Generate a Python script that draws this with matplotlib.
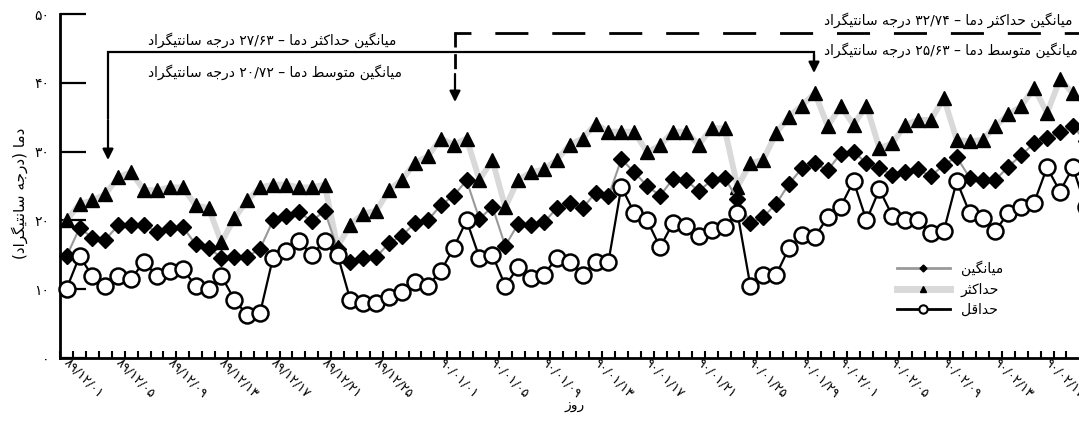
import re
import matplotlib
matplotlib.use("Agg")
import matplotlib.pyplot as plt
from matplotlib.lines import Line2D

plt.rcParams['font.family'] = ['DejaVu Sans']

# ---------------- data ----------------
max_t = [20.0, 22.4, 22.9, 23.8, 26.3, 27.0, 24.4, 24.4, 24.8, 24.8,
         22.2, 21.8, 16.8, 20.3, 22.9, 24.8, 25.2, 25.2, 24.8, 24.8,
         25.2, 16.2, 19.4, 21.0, 21.4, 24.4, 25.9, 28.4, 29.3, 31.9,
         31.0, 31.9, 25.9, 28.8, 21.9, 25.9, 27.0, 27.4, 28.8, 31.0,
         31.9, 34.0, 32.9, 32.9, 32.9, 29.9, 30.9, 32.9, 32.9, 31.0,
         33.4, 33.4, 24.9, 28.3, 28.8, 32.7, 35.1, 36.7, 38.5, 33.7,
         36.6, 33.9, 36.7, 30.5, 31.2, 33.9, 34.6, 34.6, 37.8, 31.7,
         31.5, 31.7, 33.7, 35.4, 36.6, 39.3, 35.6, 40.5, 38.5, 37.0]
mean_t = [14.8, 18.9, 17.5, 17.2, 19.3, 19.4, 19.4, 18.3, 18.9, 19.1,
          16.5, 16.0, 14.6, 14.7, 14.7, 15.9, 20.0, 20.6, 21.2, 19.9,
          21.4, 15.8, 14.0, 14.5, 14.7, 16.7, 17.8, 19.6, 20.0, 22.2,
          23.6, 25.8, 20.2, 22.0, 16.3, 19.5, 19.3, 19.7, 21.8, 22.5,
          21.8, 24.0, 23.5, 28.9, 27.0, 25.0, 23.6, 26.0, 25.8, 24.3,
          25.8, 26.2, 23.1, 19.6, 20.5, 22.4, 25.3, 27.6, 28.3, 27.3,
          29.7, 30.0, 28.3, 27.6, 26.6, 27.1, 27.4, 26.4, 28.1, 29.2,
          26.2, 25.9, 25.9, 27.8, 29.5, 31.2, 32.0, 32.8, 33.7, 31.5]
min_t = [10.1, 14.8, 11.9, 10.5, 11.9, 11.5, 14.0, 11.9, 12.6, 12.9,
         10.5, 10.0, 11.9, 8.5, 6.2, 6.6, 14.6, 15.6, 17.0, 15.0,
         17.0, 15.0, 8.4, 8.0, 8.0, 8.9, 9.6, 11.0, 10.5, 12.6,
         16.0, 20.0, 14.6, 15.0, 10.5, 13.2, 11.6, 12.1, 14.6, 14.0,
         12.1, 14.0, 14.0, 24.9, 21.1, 20.0, 16.1, 19.6, 19.2, 17.7,
         18.6, 19.1, 21.1, 10.5, 12.1, 12.1, 16.0, 17.9, 17.6, 20.5,
         22.0, 25.7, 20.0, 24.5, 20.7, 20.0, 20.0, 18.1, 18.5, 25.7,
         21.1, 20.3, 18.5, 21.1, 22.0, 22.6, 27.7, 24.2, 27.7, 22.0]

# categories: 1389 Esfand (29 days), 1390 Farvardin (31), 1390 Ordibehesht (20)
months = [("89", "12", 29), ("90", "01", 31), ("90", "02", 20)]
FA_DIGITS = str.maketrans("0123456789", "۰۱۲۳۴۵۶۷۸۹")
dates = []
for yy, mm, nd in months:
    for d in range(1, nd + 1):
        dates.append(f"{yy}/{mm}/{d:02d}".translate(FA_DIGITS))

shown_labels = ["۸۹/۱۲/۰۱", "۸۹/۱۲/۰۵", "۸۹/۱۲/۰۹", "۸۹/۱۲/۱۳", "۸۹/۱۲/۱۷",
                "۸۹/۱۲/۲۱", "۸۹/۱۲/۲۵", "۹۰/۰۱/۰۱", "۹۰/۰۱/۰۵", "۹۰/۰۱/۰۹",
                "۹۰/۰۱/۱۳", "۹۰/۰۱/۱۷", "۹۰/۰۱/۲۱", "۹۰/۰۱/۲۵", "۹۰/۰۱/۲۹",
                "۹۰/۰۲/۰۱", "۹۰/۰۲/۰۵", "۹۰/۰۲/۰۹", "۹۰/۰۲/۱۳", "۹۰/۰۲/۱۷"]
y_ticks = [0, 10, 20, 30, 40, 50]

series_names = ["میانگین", "حداکثر", "حداقل"]
note_texts = ["میانگین حداکثر دما – ۲۷/۶۳ درجه سانتیگراد",
              "میانگین متوسط دما – ۲۰/۷۲ درجه سانتیگراد",
              "میانگین حداکثر دما – ۳۲/۷۴ درجه سانتیگراد",
              "میانگین متوسط دما – ۲۵/۶۳ درجه سانتیگراد"]
x_title = "روز"
y_title = "دما (درجه سانتیگراد)"

# ---------------- simple Persian shaping (visual order) ----------------
FORMS = {
    '\u0627': ('\uFE8D', '\uFE8E', None, None),
    '\u0622': ('\uFE81', '\uFE82', None, None),
    '\u0628': ('\uFE8F', '\uFE90', '\uFE91', '\uFE92'),
    '\u067E': ('\uFB56', '\uFB57', '\uFB58', '\uFB59'),
    '\u062A': ('\uFE95', '\uFE96', '\uFE97', '\uFE98'),
    '\u062B': ('\uFE99', '\uFE9A', '\uFE9B', '\uFE9C'),
    '\u062C': ('\uFE9D', '\uFE9E', '\uFE9F', '\uFEA0'),
    '\u0686': ('\uFB7A', '\uFB7B', '\uFB7C', '\uFB7D'),
    '\u062D': ('\uFEA1', '\uFEA2', '\uFEA3', '\uFEA4'),
    '\u062E': ('\uFEA5', '\uFEA6', '\uFEA7', '\uFEA8'),
    '\u062F': ('\uFEA9', '\uFEAA', None, None),
    '\u0630': ('\uFEAB', '\uFEAC', None, None),
    '\u0631': ('\uFEAD', '\uFEAE', None, None),
    '\u0632': ('\uFEAF', '\uFEB0', None, None),
    '\u0698': ('\uFB8A', '\uFB8B', None, None),
    '\u0633': ('\uFEB1', '\uFEB2', '\uFEB3', '\uFEB4'),
    '\u0634': ('\uFEB5', '\uFEB6', '\uFEB7', '\uFEB8'),
    '\u0635': ('\uFEB9', '\uFEBA', '\uFEBB', '\uFEBC'),
    '\u0636': ('\uFEBD', '\uFEBE', '\uFEBF', '\uFEC0'),
    '\u0637': ('\uFEC1', '\uFEC2', '\uFEC3', '\uFEC4'),
    '\u0638': ('\uFEC5', '\uFEC6', '\uFEC7', '\uFEC8'),
    '\u0639': ('\uFEC9', '\uFECA', '\uFECB', '\uFECC'),
    '\u063A': ('\uFECD', '\uFECE', '\uFECF', '\uFED0'),
    '\u0641': ('\uFED1', '\uFED2', '\uFED3', '\uFED4'),
    '\u0642': ('\uFED5', '\uFED6', '\uFED7', '\uFED8'),
    '\u06A9': ('\uFB8E', '\uFB8F', '\uFB90', '\uFB91'),
    '\u06AF': ('\uFB92', '\uFB93', '\uFB94', '\uFB95'),
    '\u0644': ('\uFEDD', '\uFEDE', '\uFEDF', '\uFEE0'),
    '\u0645': ('\uFEE1', '\uFEE2', '\uFEE3', '\uFEE4'),
    '\u0646': ('\uFEE5', '\uFEE6', '\uFEE7', '\uFEE8'),
    '\u0647': ('\uFEE9', '\uFEEA', '\uFEEB', '\uFEEC'),
    '\u0648': ('\uFEED', '\uFEEE', None, None),
    '\u06CC': ('\uFBFC', '\uFBFD', '\uFBFE', '\uFBFF'),
    '\u064A': ('\uFEF1', '\uFEF2', '\uFEF3', '\uFEF4'),
}


def shape(s):
    out = []
    n = len(s)
    for k, ch in enumerate(s):
        if ch not in FORMS:
            out.append(ch)
            continue
        prev = s[k - 1] if k > 0 else None
        nxt = s[k + 1] if k < n - 1 else None
        jp = prev in FORMS and FORMS[prev][2] is not None
        jn = nxt in FORMS and FORMS[ch][2] is not None
        iso, fin, ini, med = FORMS[ch]
        if jp and jn:
            out.append(med)
        elif jp:
            out.append(fin)
        elif jn:
            out.append(ini)
        else:
            out.append(iso)
    return ''.join(out)


LTR = r'[0-9\u06F0-\u06F9/.]'


def fa(s):
    sh = shape(s)
    toks = re.findall(LTR + r'+|[^0-9\u06F0-\u06F9/.]+', sh)
    res = []
    for t in reversed(toks):
        if re.match(LTR, t):
            res.append(t)
        else:
            res.append(t[::-1].translate(str.maketrans('()', ')(')))
    return ''.join(res)


# ---------------- figure ----------------
W, H = 1079, 437
fig = plt.figure(figsize=(W / 100, H / 100), dpi=100)
ax_left, ax_right, ax_top, ax_bot = 60.2, 1079, 14, 358
ax = fig.add_axes([ax_left / W, 1 - ax_bot / H, (ax_right - ax_left) / W, (ax_bot - ax_top) / H])

x = list(range(len(dates)))
ax.plot(x, max_t, color='#d9d9d9', lw=4.2, marker='^', ms=10.5, mfc='black', mec='black',
        zorder=3, clip_on=False)
ax.plot(x, mean_t, color='#999999', lw=1.5, marker='D', ms=8.5, mfc='black', mec='black',
        zorder=4, clip_on=False)
ax.plot(x, min_t, color='black', lw=1.6, marker='o', ms=11.5, mfc='white', mec='black',
        mew=1.8, zorder=5, clip_on=False)

for s in ['top', 'right']:
    ax.spines[s].set_visible(False)
for s in ['left', 'bottom']:
    ax.spines[s].set_linewidth(2.0)

ax.set_yticks(y_ticks)
ax.set_yticklabels([str(v).translate(FA_DIGITS) for v in y_ticks], fontsize=10)
ax.tick_params(axis='y', direction='in', length=19, width=1.6, pad=8)

label_pos = [dates.index(l) for l in shown_labels]
ax.set_xticks(label_pos)
ax.set_xticklabels(shown_labels, fontsize=9.2, rotation=-45, ha='left', va='center',
                   rotation_mode='anchor')
ax.tick_params(axis='x', which='major', length=0, pad=2)
ax.set_xticks([i - 0.5 for i in range(len(dates) + 1)], minor=True)
ax.tick_params(axis='x', which='minor', direction='in', length=5, width=1.5)

# limits set after the ticks (set_xticks may widen the view)
px_per_day = 12.9
ax.set_xlim(-0.5, -0.5 + (ax_right - ax_left) / px_per_day)
ax.set_ylim(0, 50)


# ---------------- annotations ----------------
def T(ypx):
    return (ax_bot - ypx) / ((ax_bot - ax_top) / 50.0)


def X(xpx):
    return -0.5 + (xpx - ax_left) / px_per_day


arrow_kw = dict(arrowstyle='-|>', color='black', lw=1.6, mutation_scale=16, shrinkA=0, shrinkB=0)
# solid bracket
ax.plot([X(108), X(108), X(814), X(814)], [T(118), T(52), T(52), T(60)], color='black',
        lw=1.6, clip_on=False, solid_joinstyle='miter')
ax.annotate('', xy=(X(108), T(160)), xytext=(X(108), T(120)), arrowprops=arrow_kw,
            annotation_clip=False)
ax.annotate('', xy=(X(814), T(73)), xytext=(X(814), T(55)), arrowprops=arrow_kw,
            annotation_clip=False)
# dashed bracket (horizontal part starts with a short dash at the corner)
ax.plot([X(454), X(1085)], [T(33), T(33)], color='black', lw=2.0,
        linestyle=(5.8, (11.9, 8.6)), clip_on=False, solid_capstyle='butt')
ax.plot([X(455), X(455)], [T(32), T(71)], color='black', lw=2.0,
        linestyle=(0, (5.4, 2.4)), clip_on=False)
ax.annotate('', xy=(X(455), T(102)), xytext=(X(455), T(74)), arrowprops=arrow_kw,
            annotation_clip=False)
ax.set_xlim(-0.5, -0.5 + (ax_right - ax_left) / px_per_day)

ax.text(X(148), T(40), fa(note_texts[0]), fontsize=10, ha='left', va='center')
ax.text(X(148), T(72), fa(note_texts[1]), fontsize=10, ha='left', va='center')
ax.text(X(824), T(20), fa(note_texts[2]), fontsize=10, ha='left', va='center')
ax.text(X(824), T(50), fa(note_texts[3]), fontsize=10, ha='left', va='center')

# legend
handles = [
    Line2D([0], [0], color='#999999', lw=2, marker='D', ms=3.5, mfc='black', mec='black'),
    Line2D([0], [0], color='#d9d9d9', lw=5, marker='^', ms=5, mfc='black', mec='black'),
    Line2D([0], [0], color='black', lw=2, marker='o', ms=6, mfc='white', mec='black', mew=1.5),
]
ax.legend(handles, [fa(n) for n in series_names], loc='center left',
          bbox_to_anchor=((897 - ax_left) / (ax_right - ax_left), (ax_bot - 289) / (ax_bot - ax_top)),
          frameon=False, fontsize=10, handlelength=3.8, handletextpad=0.8, labelspacing=0.45,
          borderpad=0, borderaxespad=0)

fig.text(575 / W, 1 - 405 / H, fa(x_title), fontsize=10, ha='center', va='center')
fig.text(20 / W, 1 - 193 / H, fa(y_title), fontsize=11, ha='center', va='center', rotation=90)

fig.savefig('out.png', dpi=100)
